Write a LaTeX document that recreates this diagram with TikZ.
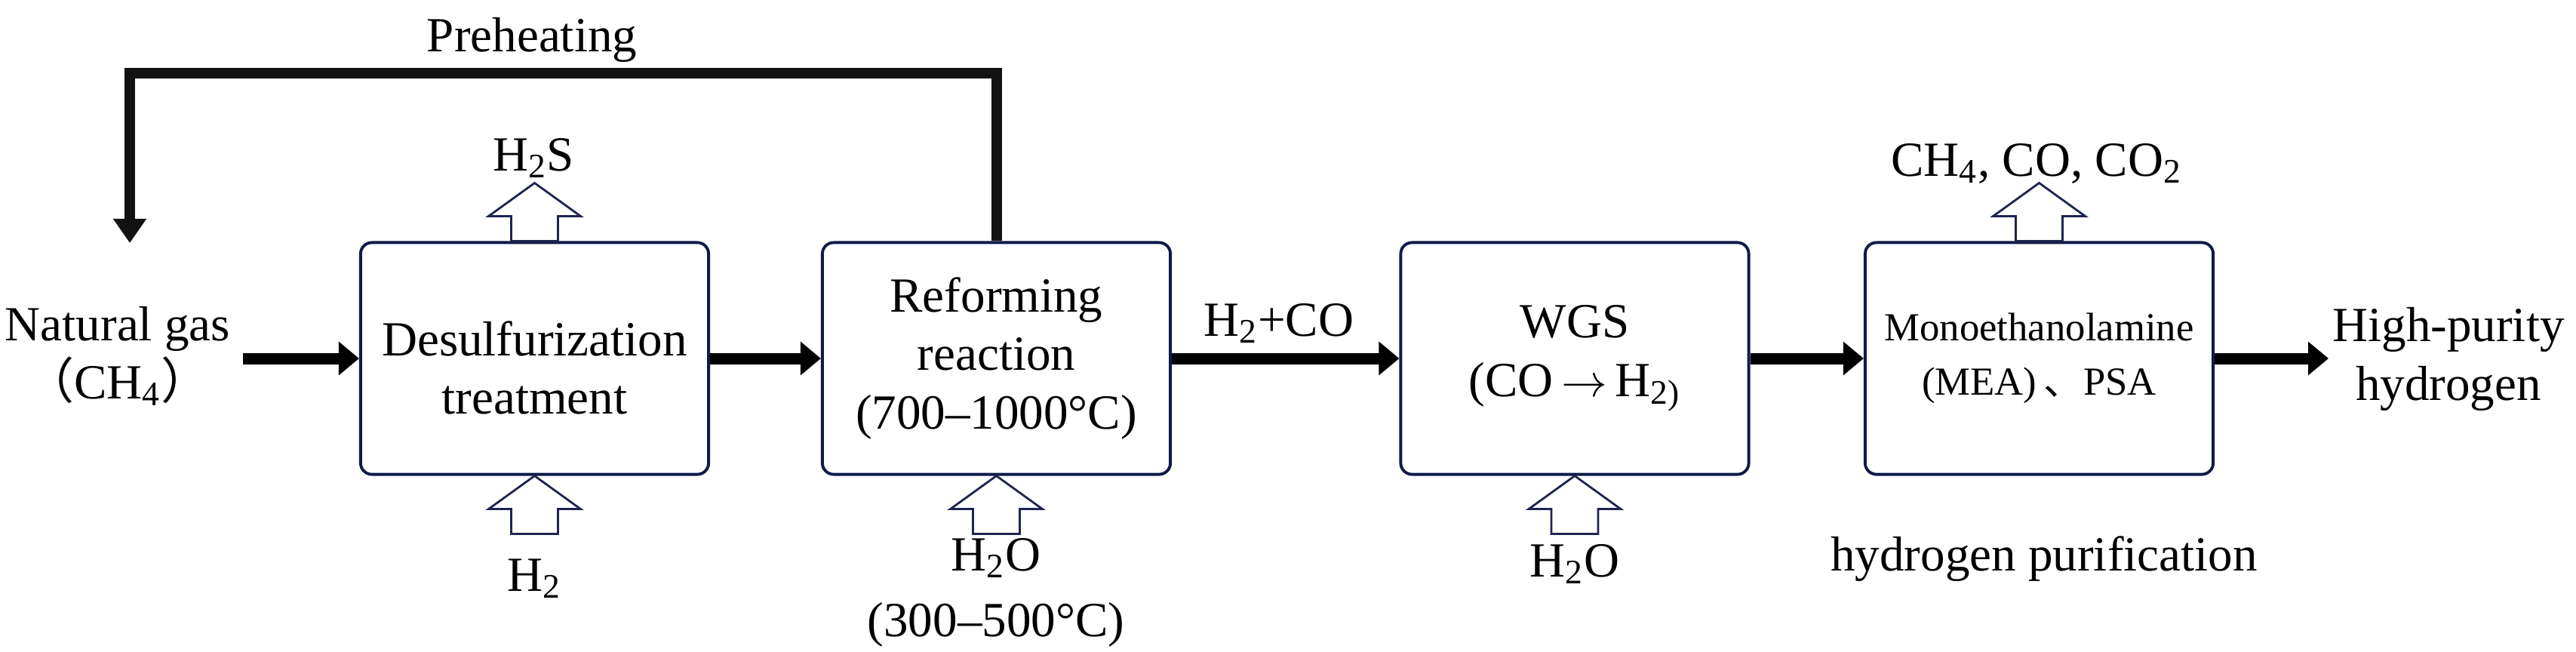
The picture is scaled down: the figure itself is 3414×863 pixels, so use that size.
\documentclass[tikz,border=0pt]{standalone}
\usepackage{fontspec}
\setmainfont{Liberation Serif}
\newfontfamily\cjk{Noto Sans CJK SC}
\usetikzlibrary{arrows.meta}
\definecolor{boxc}{HTML}{0F1A4A}
\definecolor{holc}{HTML}{1E2550}
\newcommand\mainsz{\fontsize{18.5}{22}\selectfont}
\newcommand\monosz{\fontsize{15}{20.5}\selectfont}
\begin{document}
\begin{tikzpicture}[x=0.01cm,y=-0.01cm,
  procbox/.style={draw=boxc, line width=1.1pt, rounded corners=0.15cm,
    minimum width=4.61cm, minimum height=3.07cm, inner sep=0pt, align=center, font=\mainsz},
  flow/.style={line width=0.15cm, -{Triangle[length=0.27cm,width=0.43cm]}},
  fbline/.style={line width=0.14cm, draw=black!93, line join=miter,
    -{Triangle[length=0.32cm,width=0.42cm]}},
  hollow/.style={draw=holc, line width=0.8pt, line join=miter},
  lbl/.style={inner sep=0pt, font=\mainsz, anchor=base},
  txt/.style={inner sep=0pt, font=\mainsz, align=center},
  hollowup/.pic={\draw[hollow] (-31,0) -- (-31,-33) -- (-61,-33) -- (0,-77) -- (61,-33) -- (31,-33) -- (31,0) -- cycle;}
]
\useasboundingbox (0,0) rectangle (3414,863);

% process boxes
\node[procbox] (desulf) at (708.5,475) {\rule{0pt}{0.7cm}Desulfurization\\treatment};
\node[procbox] (reform) at (1320.5,475) {Reforming\\reaction\\(700–1000°C)};
\node[procbox] (wgs) at (2087,475) {WGS\\(CO\,$\rightarrow$\,H\textsubscript{2)}};
\node[procbox, font=\monosz] (mono) at (2702.5,475) {Monoethanolamine\\(MEA)\,{\cjk 、}PSA};

% side texts
\node[txt] (nat) at (156,472) {Natural gas\\{\cjk （}CH\textsubscript{4}{\cjk ）}};
\node[txt] (hp) at (3245,476) {High-purity\\hydrogen};
\node[lbl] (preheat) at (705,68) {Preheating};
\node[lbl] (h2s) at (707,226) {H\textsubscript{2}S};
\node[lbl] (offgas) at (2699,233) {CH\textsubscript{4}, CO, CO\textsubscript{2}};
\node[lbl] (h2co) at (1695,445) {H\textsubscript{2}+CO};
\node[lbl] (h2in) at (708,783) {H\textsubscript{2}};
\node[lbl] (h2oa) at (1320,756) {H\textsubscript{2}O};
\node[lbl] (temp) at (1320,843) {(300–500°C)};
\node[lbl] (h2ob) at (2087,764) {H\textsubscript{2}O};
\node[lbl] (purif) at (2709,756) {hydrogen purification};

% main flow arrows
\coordinate (natout) at (322,475);
\coordinate (hpin) at (3086,475);
\draw[flow] (natout) -- (desulf.west);
\draw[flow] (desulf.east) -- (reform.west);
\draw[flow] (reform.east) -- (wgs.west);
\draw[flow] (wgs.east) -- (mono.west);
\draw[flow] (mono.east) -- (hpin);

% preheating loop
\coordinate (fbend) at (172,322);
\draw[fbline] (reform.north) -- ++(0,-222) -| (fbend);

% hollow arrows
\pic at (desulf.north) {hollowup};
\pic at (mono.north) {hollowup};
\pic at ([yshift=-0.77cm]desulf.south) {hollowup};
\pic at ([yshift=-0.77cm]reform.south) {hollowup};
\pic at ([yshift=-0.77cm]wgs.south) {hollowup};
\end{tikzpicture}
\end{document}
